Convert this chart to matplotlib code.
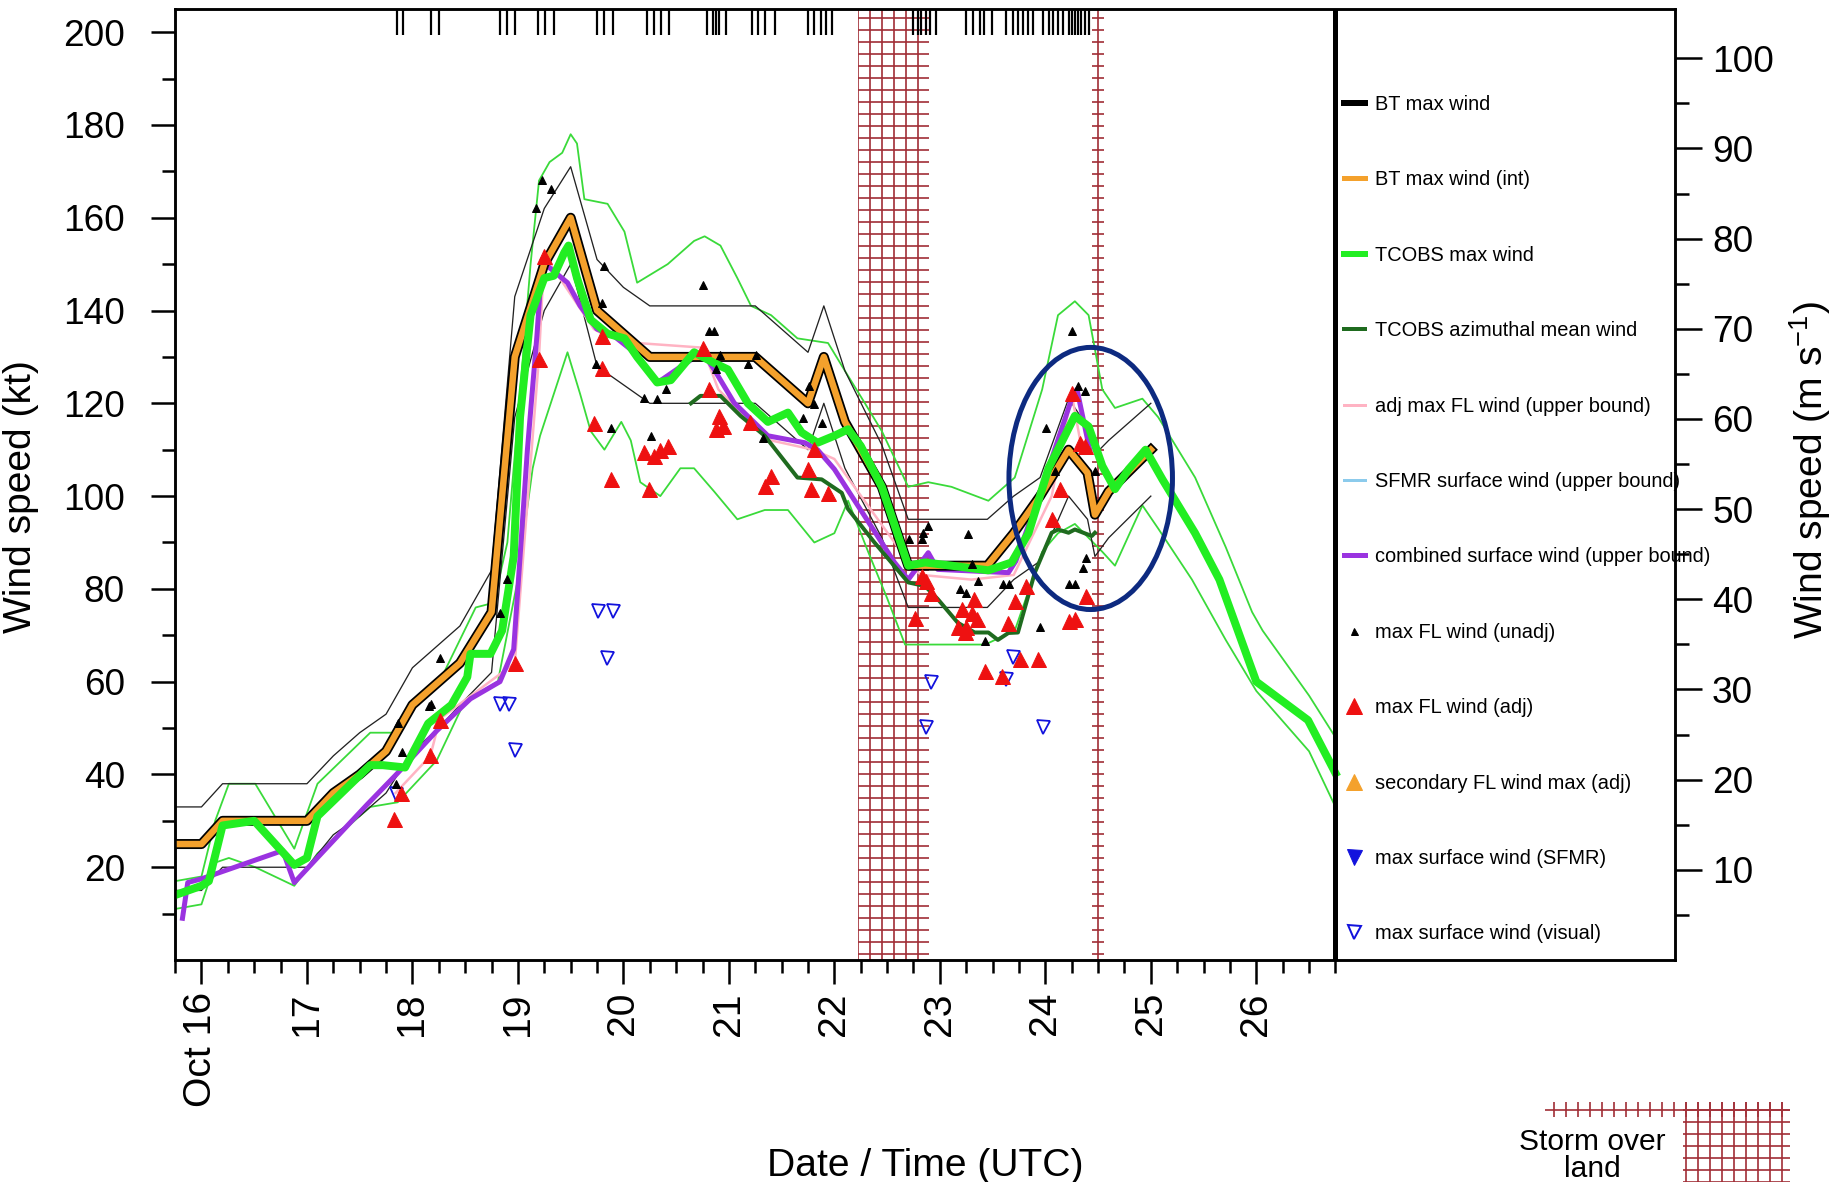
''' Max wind time series with TCOBS, best track and recon obs '''

import numpy as np
import matplotlib
matplotlib.use('Agg')
import matplotlib.pyplot as plt
from matplotlib.lines import Line2D
from matplotlib.patches import Ellipse, Rectangle

plt.rcParams['font.family'] = ['Liberation Sans', 'DejaVu Sans']
plt.rcParams['mathtext.fontset'] = 'custom'
plt.rcParams['mathtext.rm'] = 'Liberation Sans'
plt.rcParams['mathtext.default'] = 'rm'
plt.rcParams['hatch.linewidth'] = 1.7

KT_PER_MS = 1.94384

# best track (kt) and its thin upper / lower guide lines
bt_day = [15.75, 16.0, 16.2, 17.0, 17.25, 17.5, 17.75, 18.0, 18.25, 18.45, 18.75, 18.97,
          19.25, 19.5, 19.75, 20.0, 20.25, 21.25, 21.75, 21.9, 22.1, 22.45, 22.7, 23.45,
          23.7, 23.95, 24.22, 24.4, 24.47, 24.6, 25.0]
bt_kt = [25, 25, 30, 30, 36, 40, 45, 55, 60, 64, 75, 130, 150, 160, 140, 135, 130, 130,
         120, 130, 116, 102, 85, 85, 92, 100, 110, 105, 96, 101, 110]
bt_hi = [33, 33, 38, 38, 44, 49, 53, 63, 68, 72, 84, 143, 162, 171, 151, 145, 141, 141,
         131, 141, 127, 111, 95, 95, 100, 104, 121, 115, 109, 112, 120]
bt_lo = [15, 15, 20, 20, 27, 31, 36, 45, 50, 55, 62, 117, 140, 150, 128, 124, 120, 120,
         110, 120, 106, 91, 76, 76, 82, 86, 100, 95, 87, 91, 100]

# TCOBS max wind
tc_day = [15.75, 16.0, 16.07, 16.2, 16.5, 16.62, 16.88, 17.0, 17.1, 17.35, 17.6, 17.72,
          17.93, 18.15, 18.37, 18.52, 18.55, 18.74, 18.85, 18.96, 19.02, 19.12, 19.25,
          19.34, 19.44, 19.48, 19.56, 19.69, 19.85, 20.01, 20.13, 20.32, 20.45, 20.67,
          20.86, 20.99, 21.18, 21.37, 21.56, 21.69, 21.84, 22.0, 22.13, 22.25, 22.45,
          22.7, 22.86, 23.11, 23.46, 23.68, 23.84, 24.03, 24.28, 24.41, 24.54, 24.66,
          24.79, 24.95, 25.11, 25.42, 25.65, 26.0, 26.49, 26.75]
tc_kt = [14, 16, 17, 29, 30, 27, 20.5, 22, 31, 36.5, 42, 42, 41.5, 51, 55, 61, 66, 66,
         71, 87, 117, 139, 147, 147.5, 152.5, 154, 147, 138, 135, 134, 130, 124.5, 125,
         131, 128.7, 127.3, 120, 116, 118, 113.7, 111.5, 113, 114.4, 110.8, 102, 85,
         85.7, 85, 84, 85.7, 92, 106, 117.3, 115, 106.5, 101.5, 105.8, 110, 103.6, 92,
         82, 60, 51.7, 40.3]

# TCOBS envelope
ug_day = [15.75, 16.0, 16.13, 16.26, 16.51, 16.88, 17.1, 17.6, 17.86, 18.04, 18.3, 18.6,
          18.77, 18.9, 19.03, 19.12, 19.2, 19.3, 19.42, 19.5, 19.56, 19.63, 19.85, 20.01,
          20.13, 20.42, 20.67, 20.77, 20.92, 21.08, 21.21, 21.4, 21.65, 21.94, 22.1,
          22.29, 22.45, 22.7, 22.89, 23.11, 23.46, 23.71, 23.97, 24.12, 24.28, 24.41,
          24.54, 24.66, 24.92, 25.07, 25.42, 25.71, 25.96, 26.06, 26.5, 26.75]
ug_kt = [17, 18, 30, 38, 38, 24, 38, 49, 49, 55, 62, 76, 77, 90, 125, 150, 168, 172,
         174, 178, 176, 164, 163, 157, 146, 150, 155, 156, 154, 147, 141, 139, 134, 133,
         127, 120, 114, 102, 103, 102, 99, 104, 123, 139, 142, 139, 123, 119, 121, 117,
         104, 89, 75, 71, 57, 48]
lg_day = [15.75, 16.0, 16.13, 16.26, 16.51, 16.88, 17.1, 17.6, 17.86, 18.23, 18.48,
          18.66, 18.81, 18.99, 19.14, 19.21, 19.47, 19.59, 19.69, 19.82, 19.98, 20.07,
          20.16, 20.35, 20.54, 20.67, 20.86, 21.08, 21.34, 21.56, 21.81, 22.0, 22.13,
          22.32, 22.5, 22.67, 22.86, 23.43, 23.71, 23.97, 24.12, 24.28, 24.41, 24.54,
          24.66, 24.92, 25.07, 25.39, 25.71, 26.0, 26.5, 26.75]
lg_kt = [11, 12, 21, 22, 20, 16, 23, 33, 34, 43, 55, 58, 60, 81, 106, 113, 131, 122,
         114, 110, 116, 112, 103, 100, 106, 106, 101, 95, 97, 97, 90, 92, 99, 88, 78, 68,
         68, 68, 71, 88, 92, 94, 91, 88, 85, 98, 93, 82, 69, 58, 45, 33]

# TCOBS azimuthal mean wind
az_day = [20.64, 20.73, 20.92, 21.11, 21.34, 21.65, 21.88, 22.07, 22.13, 22.38, 22.7,
          22.86, 22.98, 23.17, 23.33, 23.46, 23.55, 23.65, 23.74, 23.9, 24.06, 24.12,
          24.22, 24.28, 24.44, 24.47]
az_kt = [120, 121.6, 121.6, 117.3, 113, 104, 103.6, 100.7, 97.2, 90, 81.4, 80.6, 77.8,
         72.7, 70.6, 70.6, 69, 70.5, 70.6, 83.5, 92.1, 92.8, 92.1, 92.8, 91.4, 92.1]

# combined surface wind (upper bound)
pu_day = [15.82, 15.87, 16.0, 16.77, 16.88, 17.13, 17.57, 17.86, 18.23, 18.55, 18.83,
          18.96, 19.09, 19.18, 19.23, 19.28, 19.47, 19.59, 19.75, 19.91, 20.07, 20.32,
          20.55, 20.75, 20.86, 21.05, 21.37, 21.72, 21.84, 22.0, 22.57, 22.7, 22.89,
          22.98, 23.65, 23.72, 24.0, 24.25, 24.3, 24.42]
pu_kt = [9, 16.7, 17.5, 23.6, 16.7, 22.8, 33.5, 40.3, 49.4, 56.3, 60, 67, 110, 134.5,
         151, 149.6, 146, 141, 136, 134.5, 131.6, 124.4, 128, 131, 127.3, 120.1, 113,
         111.5, 110, 105.8, 85.7, 82, 87.8, 84.2, 83.5, 86, 104, 121, 123, 110]

# adj max FL wind (upper bound)
pk_day = [17.84, 18.17, 18.26, 18.97, 19.2, 19.25, 19.72, 19.8, 20.13, 20.75, 20.9,
          21.2, 21.4, 21.8, 22.0, 22.76, 22.83, 23.3, 23.7, 24.06, 24.25, 24.33, 24.45]
pk_kt = [36, 44, 52, 64, 130, 152, 136, 135, 133, 132, 123, 116, 112, 110, 108, 84, 83,
         82, 83, 100, 122, 112, 110]

# recon observations
unadj_day = [17.84, 17.86, 17.9, 18.16, 18.18, 18.26, 18.83, 18.9, 19.17, 19.23, 19.31,
             19.74, 19.8, 19.82, 19.88, 20.2, 20.26, 20.32, 20.4, 20.75, 20.81, 20.86,
             20.88, 20.92, 21.18, 21.26, 21.32, 21.7, 21.76, 21.81, 21.88, 22.71, 22.83,
             22.84, 22.89, 23.19, 23.25, 23.27, 23.3, 23.36, 23.43, 23.6, 23.66, 23.95,
             24.01, 24.09, 24.22, 24.25, 24.28, 24.31, 24.36, 24.38, 24.39, 24.47]
unadj_kt = [38, 51, 44.9, 54.8, 55.1, 65, 74.9, 82.1, 162.1, 168.2, 166.1, 128.4, 141.7,
            149.6, 114.7, 121.2, 113, 120.9, 123, 145.6, 135.6, 135.6, 127.3, 130.5,
            128.4, 130.5, 112.6, 116.9, 123.7, 119.8, 115.8, 90.7, 90.7, 92.1, 93.6, 79.9,
            79.2, 91.8, 85.3, 81.7, 68.8, 81, 81, 71.7, 114.7, 105.4, 81, 135.6, 81,
            123.7, 84.6, 122.6, 86.7, 105.4]
adj_day = [17.83, 17.89, 18.17, 18.26, 18.97, 19.2, 19.25, 19.72, 19.8, 19.8, 19.88,
           20.2, 20.24, 20.29, 20.35, 20.42, 20.75, 20.81, 20.88, 20.91, 20.94, 21.2,
           21.34, 21.4, 21.75, 21.78, 21.81, 21.94, 22.76, 22.83, 22.87, 22.92, 23.17,
           23.21, 23.24, 23.25, 23.3, 23.32, 23.35, 23.43, 23.59, 23.65, 23.71, 23.76,
           23.82, 23.93, 24.06, 24.14, 24.22, 24.25, 24.28, 24.33, 24.38, 24.39]
adj_kt = [30.4, 36.1, 44.1, 51.7, 64, 129.5, 151.7, 115.8, 134.5, 127.7, 103.6, 109.4,
          101.5, 108.6, 110, 110.8, 132, 123, 114.4, 117.3, 115.1, 116, 102.2, 104.3,
          105.8, 101.5, 110.1, 100.7, 73.8, 82.8, 81.7, 79.2, 71.7, 75.6, 70.6, 71.7,
          74.9, 77.8, 73.5, 62.3, 61.3, 72.7, 77.4, 64.8, 80.6, 64.8, 95, 101.5, 73.1,
          122.3, 73.5, 111.5, 110.8, 78.5]
vis_day = [17.84, 18.83, 18.92, 18.97, 19.76, 19.84, 19.9, 22.87, 22.92, 23.63, 23.69, 23.98]
vis_kt = [35.7, 55.1, 55.1, 45.2, 75.3, 65.2, 75.3, 50.2, 60, 60.5, 65.4, 50.2]

# recon fix times (top ticks)
obs_day = [17.85, 17.91, 18.18, 18.25, 18.83, 18.90, 18.97, 19.19, 19.26, 19.34, 19.75,
           19.82, 19.90, 20.22, 20.29, 20.36, 20.43, 20.79, 20.85, 20.88, 20.91, 20.97,
           21.22, 21.28, 21.34, 21.44, 21.75, 21.81, 21.87, 21.92, 21.98, 22.75, 22.79,
           22.82, 22.87, 22.91, 22.96, 23.25, 23.31, 23.38, 23.42, 23.49, 23.63, 23.69,
           23.74, 23.79, 23.84, 23.88, 23.98, 24.03, 24.07, 24.12, 24.17, 24.22, 24.25,
           24.28, 24.31, 24.34, 24.38, 24.41]

# storm over land
land_start = [22.22, 24.44]
land_end = [22.90, 24.56]

day_ticks = [16, 17, 18, 19, 20, 21, 22, 23, 24, 25, 26]
day_labels = ['Oct 16', '17', '18', '19', '20', '21', '22', '23', '24', '25', '26']

labels = ['BT max wind', 'BT max wind (int)', 'TCOBS max wind',
          'TCOBS azimuthal mean wind', 'adj max FL wind (upper bound)',
          'SFMR surface wind (upper bound)', 'combined surface wind (upper bound)',
          'max FL wind (unadj)', 'max FL wind (adj)', 'secondary FL wind max (adj)',
          'max surface wind (SFMR)', 'max surface wind (visual)']

ORANGE = '#f4a12c'
GREEN = '#22ee22'
THIN_GREEN = '#3ada3a'
DKGREEN = '#1f6b1f'
PURPLE = '#9a33e0'
PINK = '#ffb3c3'
SKY = '#8ccbec'
RED = '#ee1111'
BLUE = '#1212dd'
HATCH = '#a3323a'
NAVY = '#0d2a80'

fig = plt.figure(figsize=(1843 / 72, 1182 / 72), dpi=72)
ax = fig.add_axes([0.0950, 0.1878, 0.8139, 0.8046])

for s, e in zip(land_start, land_end):
    ax.axvspan(s, e, facecolor='none', edgecolor=HATCH, hatch='+', lw=0, zorder=0.5)

ax.plot(ug_day, ug_kt, color=THIN_GREEN, lw=1.8, zorder=2)
ax.plot(lg_day, lg_kt, color=THIN_GREEN, lw=1.8, zorder=2)
ax.plot(bt_day, bt_hi, color='#222222', lw=1.3, zorder=2)
ax.plot(bt_day, bt_lo, color='#222222', lw=1.3, zorder=2)
ax.plot(pk_day, pk_kt, color=PINK, lw=2.5, zorder=2.5)
ax.plot(pu_day, pu_kt, color=PURPLE, lw=5, zorder=3)
ax.plot(az_day, az_kt, color=DKGREEN, lw=4, zorder=3.2)
ax.plot(bt_day, bt_kt, color='black', lw=10, zorder=4)
ax.plot(bt_day, bt_kt, color=ORANGE, lw=6.5, zorder=4.1)
ax.plot(tc_day, tc_kt, color=GREEN, lw=8, zorder=5)

ax.plot(vis_day, vis_kt, ls='none', marker='v', mfc='none', mec=BLUE, mew=1.8, ms=13, zorder=6)
ax.plot(adj_day, adj_kt, ls='none', marker='^', color=RED, ms=15, zorder=6)
ax.plot(unadj_day, unadj_kt, ls='none', marker='^', color='black', ms=8, zorder=6.5)

ax.vlines(obs_day, 0.973, 1.0, transform=ax.get_xaxis_transform(), color='black', lw=2.2, zorder=7)
ax.add_patch(Ellipse((24.43, 103.8), 1.55, 56.5, fill=False, ec=NAVY, lw=5, zorder=7))
ax.axvline(26.75, color='black', lw=5, zorder=8)

ax.set_xlim(15.75, 29.97)
ax.set_ylim(0, 205)
ax.set_xticks(day_ticks)
ax.set_xticklabels(day_labels, rotation=90)
ax.set_xticks(np.arange(15.75, 26.76, 0.25), minor=True)
ax.set_yticks(np.arange(20, 201, 20))
ax.set_yticks(np.arange(10, 200, 20), minor=True)
ax.tick_params(axis='both', which='both', direction='out', width=2.5, labelsize=37)
ax.tick_params(axis='x', which='major', length=24, pad=8, labelsize=39)
ax.tick_params(axis='x', which='minor', length=13)
ax.tick_params(axis='y', which='major', length=24, pad=26)
ax.tick_params(axis='y', which='minor', length=13)
for sp in ax.spines.values():
    sp.set_linewidth(2.5)

ax2 = ax.twinx()
ax2.set_ylim(0, 205 / KT_PER_MS)
ax2.set_yticks(np.arange(10, 101, 10))
ax2.set_yticks(np.arange(5, 100, 10), minor=True)
ax2.tick_params(axis='y', which='both', direction='out', width=2.5, labelsize=37)
ax2.tick_params(axis='y', which='major', length=27, pad=10)
ax2.tick_params(axis='y', which='minor', length=14)
for sp in ax2.spines.values():
    sp.set_linewidth(2.5)

handles = [
    Line2D([], [], color='black', lw=6),
    Line2D([], [], color=ORANGE, lw=5),
    Line2D([], [], color=GREEN, lw=6),
    Line2D([], [], color=DKGREEN, lw=4),
    Line2D([], [], color=PINK, lw=3),
    Line2D([], [], color=SKY, lw=3),
    Line2D([], [], color=PURPLE, lw=5),
    Line2D([], [], ls='none', marker='^', color='black', ms=7),
    Line2D([], [], ls='none', marker='^', color=RED, ms=16),
    Line2D([], [], ls='none', marker='^', color=ORANGE, ms=16),
    Line2D([], [], ls='none', marker='v', color=BLUE, ms=15),
    Line2D([], [], ls='none', marker='v', mfc='none', mec=BLUE, mew=2, ms=13),
]
ax2.legend(handles, labels, loc='upper left', bbox_to_anchor=(0.779, 0.9095),
           frameon=False, fontsize=20, labelspacing=2.82, handlelength=1.05,
           handletextpad=0.5, borderpad=0, borderaxespad=0, numpoints=1)

ax.xaxis.set_label_coords(0.5, -0.198)
ax.set_xlabel('Date / Time (UTC)', fontsize=39, va='top')
fig.text(21 / 1843, 0.580, 'Wind speed (kt)', rotation=90, ha='center', va='center', fontsize=39)
fig.text(0.982, 0.602, 'Wind speed (m s$^{-1}$)', rotation=90, ha='center', va='center', fontsize=39)

# storm over land key
fig.patches.append(Rectangle((0.8383, 0.0550), 0.1329, 0.0127, transform=fig.transFigure,
                             facecolor='none', edgecolor=HATCH, hatch='+', lw=0))
fig.patches.append(Rectangle((0.9132, 0.0), 0.0581, 0.0677, transform=fig.transFigure,
                             facecolor='none', edgecolor=HATCH, hatch='+', lw=0))
fig.text(0.8640, 0.0457, 'Storm over\nland', ha='center', va='top', fontsize=30, linespacing=0.95)

fig.savefig('out.png', dpi=72)
